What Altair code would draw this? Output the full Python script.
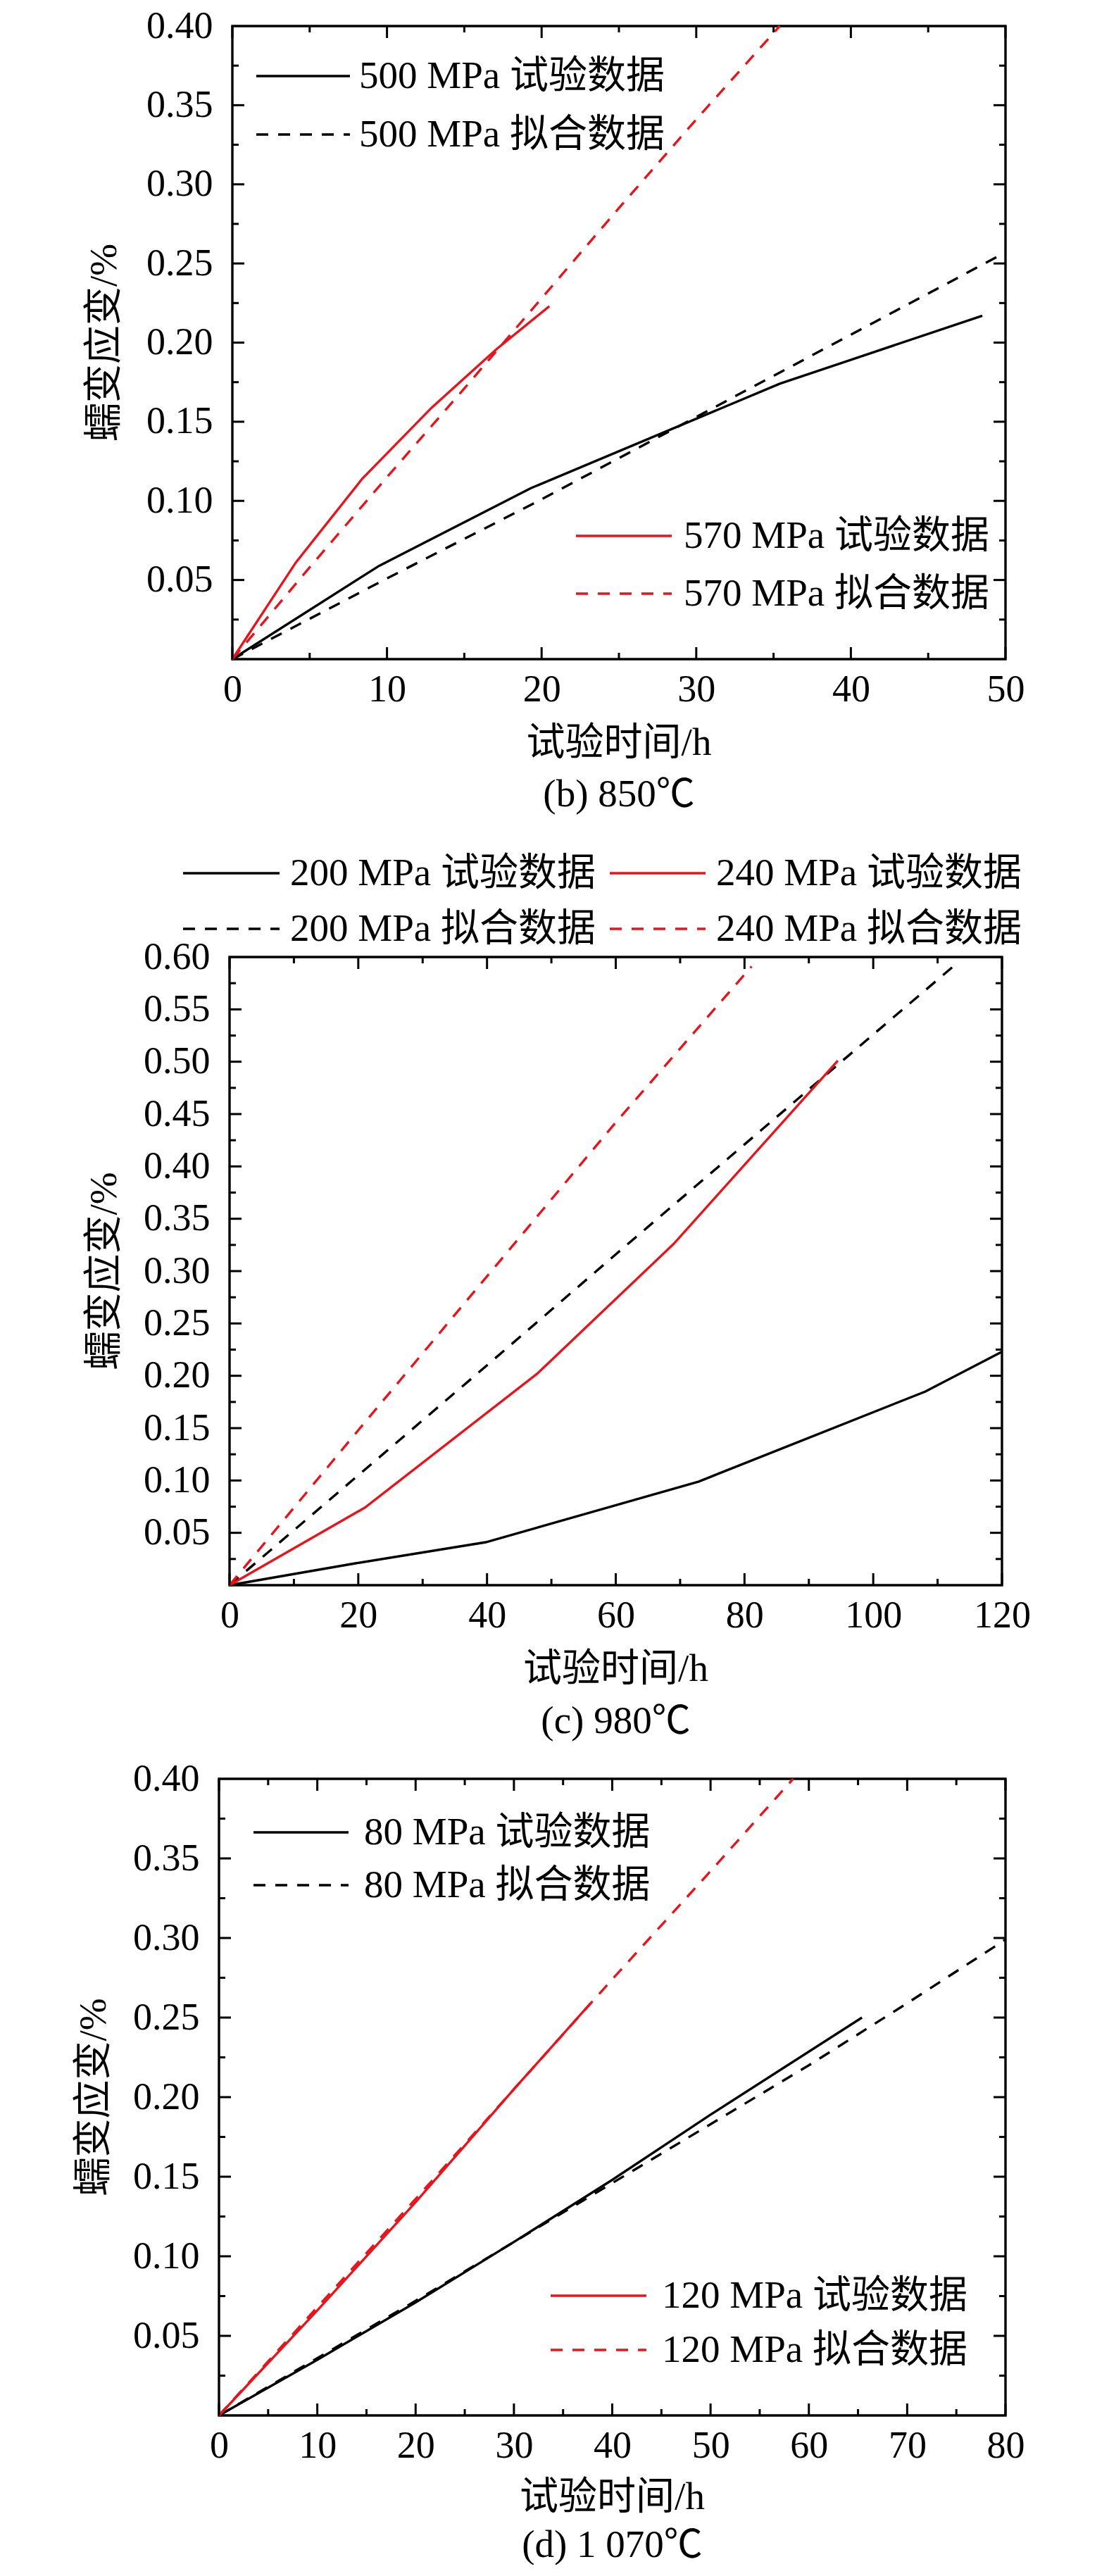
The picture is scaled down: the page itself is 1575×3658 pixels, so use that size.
import altair as alt
import pandas as pd

FONT = "Liberation Serif, Noto Sans CJK SC"
RED = "#e8141b"
BLACK = "#000000"
DASH = [17, 14]
LW = 3.4

# ---------------- data ----------------
# (b) 850 C
b_500_test_t = [0, 9.5, 19.3, 35.4, 48.5]
b_500_test_e = [0, 0.059, 0.108, 0.174, 0.217]
b_500_fit_t = [0, 10, 20, 30, 40, 50]
b_500_fit_e = [0, 0.051, 0.101, 0.153, 0.205, 0.257]
b_570_test_t = [0, 4.1, 8.4, 12.9, 17.1, 20.5]
b_570_test_e = [0, 0.061, 0.114, 0.159, 0.196, 0.223]
b_570_fit_t = [0, 5, 10, 15, 20, 25, 30, 35.4]
b_570_fit_e = [0, 0.058, 0.115, 0.171, 0.228, 0.285, 0.341, 0.400]

# (c) 980 C
c_200_test_t = [0, 19.7, 39.8, 72.9, 108.1, 120]
c_200_test_e = [0, 0.021, 0.041, 0.099, 0.185, 0.223]
c_200_fit_t = [0, 20, 40, 60, 80, 100, 113]
c_200_fit_e = [0, 0.105, 0.210, 0.316, 0.421, 0.526, 0.594]
c_240_test_t = [0, 21.0, 47.8, 69.0, 94.5]
c_240_test_e = [0, 0.074, 0.202, 0.326, 0.501]
c_240_fit_t = [0, 20, 40, 60, 81.1]
c_240_fit_e = [0, 0.148, 0.295, 0.442, 0.591]

# (d) 1 070 C
d_80_test_t = [0, 10, 20, 30, 40, 50, 65.4]
d_80_test_e = [0, 0.035, 0.071, 0.109, 0.148, 0.189, 0.250]
d_80_fit_t = [0, 10, 20, 30, 40, 50, 60, 70, 80]
d_80_fit_e = [0, 0.036, 0.072, 0.109, 0.146, 0.183, 0.220, 0.259, 0.299]
d_120_test_t = [0, 10, 20, 30, 37.8]
d_120_test_e = [0, 0.066, 0.134, 0.205, 0.259]
d_120_fit_t = [0, 10, 20, 30, 40, 50, 58.4]
d_120_fit_e = [0, 0.068, 0.136, 0.205, 0.274, 0.342, 0.400]

# legend labels
b_labels = ["500 MPa 试验数据", "500 MPa 拟合数据", "570 MPa 试验数据", "570 MPa 拟合数据"]
c_labels = ["200 MPa 试验数据", "200 MPa 拟合数据", "240 MPa 试验数据", "240 MPa 拟合数据"]
d_labels = ["80 MPa 试验数据", "80 MPa 拟合数据", "120 MPa 试验数据", "120 MPa 拟合数据"]

x_title = "试验时间/h"
y_title = "蠕变应变/%"
captions = ["(b) 850℃", "(c) 980℃", "(d) 1 070℃"]

# axis ticks
b_x_major = [0, 10, 20, 30, 40, 50]
b_x_minor = [5, 15, 25, 35, 45]
c_x_major = [0, 20, 40, 60, 80, 100, 120]
c_x_minor = [10, 30, 50, 70, 90, 110]
d_x_major = [0, 10, 20, 30, 40, 50, 60, 70, 80]
d_x_minor = [5, 15, 25, 35, 45, 55, 65, 75]
y40_major = [0.05, 0.10, 0.15, 0.20, 0.25, 0.30, 0.35]
y40_minor = [0.025, 0.075, 0.125, 0.175, 0.225, 0.275, 0.325, 0.375]
y40_labels = [0.05, 0.10, 0.15, 0.20, 0.25, 0.30, 0.35, 0.40]
y60_major = [0.05, 0.10, 0.15, 0.20, 0.25, 0.30, 0.35, 0.40, 0.45, 0.50, 0.55]
y60_minor = [0.025, 0.075, 0.125, 0.175, 0.225, 0.275, 0.325, 0.375, 0.425, 0.475, 0.525, 0.575]
y60_labels = [0.05, 0.10, 0.15, 0.20, 0.25, 0.30, 0.35, 0.40, 0.45, 0.50, 0.55, 0.60]

TICK_FS = 54
TEXT_FS = 55


def panel(W, H, shift, xdom, ydom, xlab, xmaj, xmin_, ylab, ymaj, ymin_, series,
          legend, caption, ytx, title_dy, cap_dy, marker_top, marker_bottom):
    # plot frame spans x from -shift to W (relative to the common column origin)
    L = -shift
    cx = (L + W) / 2
    xs = alt.Scale(domain=xdom, range=[L, W], nice=False, zero=False)
    ys = alt.Scale(domain=ydom, nice=False, zero=False)
    xax = alt.Axis(values=xlab, format="d", labelFont=FONT, labelFontSize=TICK_FS,
                   labelColor=BLACK, labelPadding=16, ticks=False, domain=False,
                   grid=False, labelFlush=False, labelOverlap=False, title=None)
    yax = alt.Axis(values=ylab, format=".2f", labelFont=FONT, labelFontSize=TICK_FS,
                   labelColor=BLACK, labelPadding=28, ticks=False, domain=False,
                   grid=False, labelOverlap=False, title=None, offset=shift)
    X = alt.X("x:Q", scale=xs, axis=xax)
    Y = alt.Y("y:Q", scale=ys, axis=yax)
    one = pd.DataFrame({"label": [""]})
    layers = []
    # frame
    layers.append(alt.Chart(one).mark_rect(
        fillOpacity=0, stroke=BLACK, strokeWidth=3.4
    ).encode(x=alt.value(L), x2=alt.value(W), y=alt.value(0), y2=alt.value(H)))
    for t, e, color, dashed in series:
        df = pd.DataFrame({"x": t, "y": e})
        kw = dict(color=color, strokeWidth=LW)
        if dashed:
            kw["strokeDash"] = DASH
        layers.append(alt.Chart(df).mark_line(**kw).encode(x=X, y=Y))
    # inward ticks on four sides
    for vals, ln in ((xmaj, 17), (xmin_, 9)):
        df = pd.DataFrame({"x": vals})
        layers.append(alt.Chart(df).mark_rule(color=BLACK, strokeWidth=3).encode(
            x=X, y=alt.value(H), y2=alt.value(H - ln)))
        layers.append(alt.Chart(df).mark_rule(color=BLACK, strokeWidth=3).encode(
            x=X, y=alt.value(0), y2=alt.value(ln)))
    for vals, ln in ((ymaj, 17), (ymin_, 9)):
        df = pd.DataFrame({"y": vals})
        layers.append(alt.Chart(df).mark_rule(color=BLACK, strokeWidth=3).encode(
            y=Y, x=alt.value(L), x2=alt.value(L + ln)))
        layers.append(alt.Chart(df).mark_rule(color=BLACK, strokeWidth=3).encode(
            y=Y, x=alt.value(W), x2=alt.value(W - ln)))
    # legend (x positions relative to the frame's left edge)
    for label, color, dashed, x0, x1, xt, yr in legend:
        df = pd.DataFrame({"label": [label]})
        kw = dict(color=color, strokeWidth=LW)
        if dashed:
            kw["strokeDash"] = DASH
        layers.append(alt.Chart(df).mark_rule(**kw).encode(
            x=alt.value(L + x0), x2=alt.value(L + x1), y=alt.value(yr)))
        layers.append(alt.Chart(df).mark_text(
            font=FONT, fontSize=TEXT_FS, color=BLACK, align="left", baseline="middle"
        ).encode(text="label:N", x=alt.value(L + xt), y=alt.value(yr)))
    # titles
    layers.append(alt.Chart(pd.DataFrame({"label": [x_title]})).mark_text(
        font=FONT, fontSize=TEXT_FS, color=BLACK, align="center", baseline="middle"
    ).encode(text="label:N", x=alt.value(cx), y=alt.value(H + title_dy)))
    layers.append(alt.Chart(pd.DataFrame({"label": [caption]})).mark_text(
        font=FONT, fontSize=TEXT_FS, color=BLACK, align="center", baseline="middle"
    ).encode(text="label:N", x=alt.value(cx), y=alt.value(H + cap_dy)))
    layers.append(alt.Chart(pd.DataFrame({"label": [y_title]})).mark_text(
        font=FONT, fontSize=TEXT_FS, color=BLACK, align="center", baseline="middle",
        angle=270
    ).encode(text="label:N", x=alt.value(L + ytx), y=alt.value(H / 2)))
    # invisible layout extent marker
    layers.append(alt.Chart(one).mark_rule(opacity=0).encode(
        x=alt.value(-226), x2=alt.value(-225),
        y=alt.value(marker_top), y2=alt.value(H + marker_bottom)))
    return alt.layer(*layers).properties(width=W, height=H)


p1 = panel(
    1098, 899, 0, [0, 50], [0, 0.40], b_x_major, b_x_major, b_x_minor,
    y40_labels, y40_major, y40_minor,
    [(b_500_test_t, b_500_test_e, BLACK, False),
     (b_500_fit_t, b_500_fit_e, BLACK, True),
     (b_570_test_t, b_570_test_e, RED, False),
     (b_570_fit_t, b_570_fit_e, RED, True)],
    [(b_labels[0], BLACK, False, 34, 167, 180, 71),
     (b_labels[1], BLACK, True, 34, 167, 180, 154),
     (b_labels[2], RED, False, 488, 624, 641, 724),
     (b_labels[3], RED, True, 488, 624, 641, 806)],
    captions[0], -182, 119, 192, -29, 273)

p2 = panel(
    1093, 892, 4, [0, 120], [0, 0.60], c_x_major, c_x_major, c_x_minor,
    y60_labels, y60_major, y60_minor,
    [(c_200_test_t, c_200_test_e, BLACK, False),
     (c_200_fit_t, c_200_fit_e, BLACK, True),
     (c_240_test_t, c_240_test_e, RED, False),
     (c_240_fit_t, c_240_fit_e, RED, True)],
    [(c_labels[0], BLACK, False, -66, 71, 86, -119),
     (c_labels[1], BLACK, True, -66, 71, 86, -40),
     (c_labels[2], RED, False, 540, 676, 691, -119),
     (c_labels[3], RED, True, 540, 676, 691, -40)],
    captions[1], -178, 119, 193, -150, 235)

p3 = panel(
    1098, 904, 19, [0, 80], [0, 0.40], d_x_major, d_x_major, d_x_minor,
    y40_labels, y40_major, y40_minor,
    [(d_80_test_t, d_80_test_e, BLACK, False),
     (d_80_fit_t, d_80_fit_e, BLACK, True),
     (d_120_test_t, d_120_test_e, RED, False),
     (d_120_fit_t, d_120_fit_e, RED, True)],
    [(d_labels[0], BLACK, False, 49, 184, 206, 76),
     (d_labels[1], BLACK, True, 49, 184, 206, 151),
     (d_labels[2], RED, False, 471, 607, 629, 734),
     (d_labels[3], RED, True, 471, 607, 629, 811)],
    captions[2], -178, 116, 184, -40, 205)

chart = alt.concat(p1, p2, p3, columns=1, align="none", spacing=0).properties(
    padding={"left": 96, "top": 0, "right": 0, "bottom": 0}
).configure_view(strokeWidth=0)

chart.save("out.html", embed_options={"renderer": "svg", "actions": False})
